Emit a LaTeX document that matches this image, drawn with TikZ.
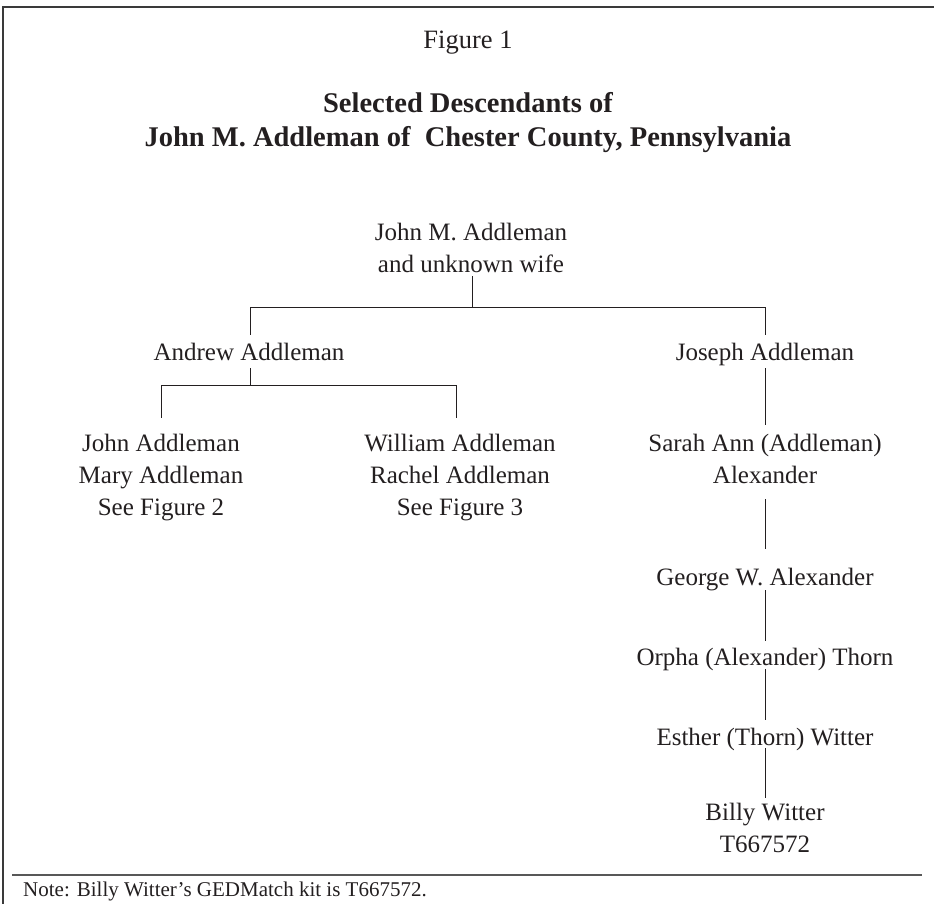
\documentclass[tikz,border=0pt]{standalone}
\usepackage{fontspec}
\setmainfont{Liberation Serif}
\usetikzlibrary{calc}
\definecolor{ink}{HTML}{231F20}
\definecolor{rule}{HTML}{3A3A3A}
\tikzset{
  person/.style={align=center, inner sep=0pt, text=ink, font=\fontsize{25}{32}\selectfont,
    execute at begin node=\strut, execute at end node=\strut},
  link/.style={draw=ink, line width=1pt},
  framerule/.style={draw=rule, line width=1.6pt},
  noterule/.style={draw=rule!85, line width=1.6pt}
}
\begin{document}
\begin{tikzpicture}[x=1pt,y=-1pt]
\useasboundingbox (0,0) rectangle (934,904);
\draw[framerule] (934,7) -- (3,7) -- (3,904);

\node[person, font=\fontsize{26.5}{32}\selectfont] (fig) at (468,42) {Figure 1};
\node[person, font=\bfseries\fontsize{28.5}{34}\selectfont] (title) at (468,125)
  {Selected Descendants of\\John M. Addleman of~ Chester County, Pennsylvania};

\node[person] (root) at (471,253) {John M. Addleman\\and unknown wife};
\node[person] (andrew) at (249,354) {Andrew Addleman};
\node[person] (joseph) at (765,354) {Joseph Addleman};
\node[person] (john) at (161,480) {John Addleman\\Mary Addleman\\See Figure 2};
\node[person] (william) at (460,480) {William Addleman\\Rachel Addleman\\See Figure 3};
\node[person] (sarah) at (765,464) {Sarah Ann (Addleman)\\Alexander};
\node[person] (george) at (765,579) {George W. Alexander};
\node[person] (orpha) at (765,659) {Orpha (Alexander) Thorn};
\node[person] (esther) at (765,739) {Esther (Thorn) Witter};
\node[person] (billy) at (765,833) {Billy Witter\\T667572};

\coordinate (j0) at (472,307);
\coordinate (jA) at (250,307);
\coordinate (jJ) at (765,307);
\coordinate (j1) at (250,385);
\coordinate (jL) at (161,385);
\coordinate (jR) at (456,385);

\draw[link] ($(root)+(1,23)$) -- (j0);
\draw[link] (jA) -- (jJ);
\draw[link] (jA) -- ($(andrew)+(1,-19)$);
\draw[link] (jJ) -- ($(joseph)+(0,-19)$);
\draw[link] ($(andrew)+(1,14)$) -- (j1);
\draw[link] (jL) -- (jR);
\draw[link] (jL) -- ($(john)+(0,-62)$);
\draw[link] (jR) -- ($(william)+(-4,-62)$);
\draw[link] ($(joseph)+(0,14)$) -- ($(sarah)+(0,-39)$);
\draw[link] ($(sarah)+(0,35)$) -- ($(george)+(0,-30)$);
\draw[link] ($(george)+(0,11)$) -- ($(orpha)+(0,-18)$);
\draw[link] ($(orpha)+(0,10)$) -- ($(esther)+(0,-19)$);
\draw[link] ($(esther)+(0,9)$) -- ($(billy)+(0,-35)$);

\draw[noterule] (12,875) -- (922,875);
\node[anchor=west, inner sep=0pt, text=ink, font=\fontsize{21}{26}\selectfont,
  execute at begin node=\strut] (note) at (23,891)
  {Note: Billy Witter’s GEDMatch kit is T667572.};
\end{tikzpicture}
\end{document}
